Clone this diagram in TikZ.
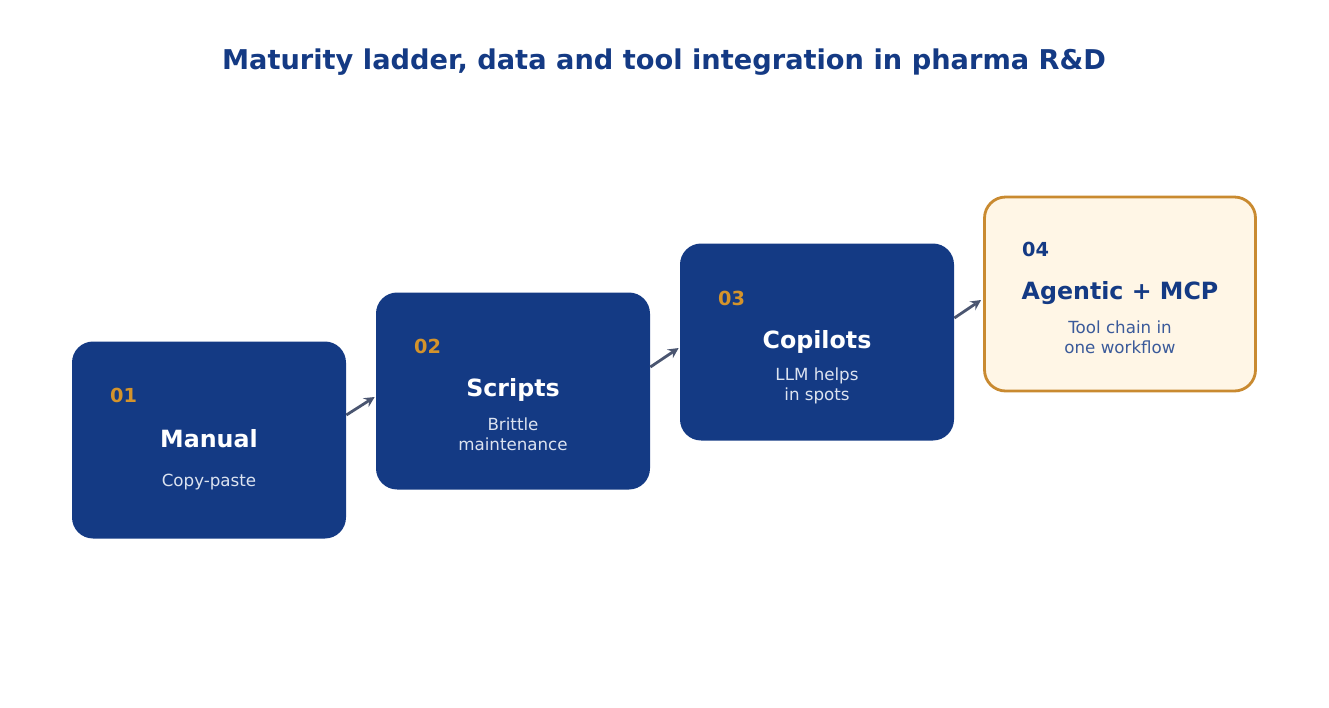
\documentclass[tikz,border=0pt]{standalone}
\usepackage{fontspec}
\setmainfont{DejaVu Sans}
\usetikzlibrary{calc}
\definecolor{navy}{HTML}{143A84}
\definecolor{amber}{HTML}{D4932B}
\definecolor{pale}{HTML}{DCE3F0}
\definecolor{cream}{HTML}{FFF6E6}
\definecolor{rim}{HTML}{C98A30}
\definecolor{slate}{HTML}{4A5570}
\definecolor{softblue}{HTML}{3A5A9A}
\begin{document}
\begin{tikzpicture}[x=0.02cm,y=-0.02cm,
                        stage/.style={shape=rectangle,fill=navy,rounded corners=12pt,minimum width=274*0.02cm,minimum height=197*0.02cm},
                        goal/.style={shape=rectangle,fill=cream,draw=rim,line width=1.6pt,rounded corners=12pt,minimum width=271*0.02cm,minimum height=194*0.02cm},
                        num/.style={font=\bfseries\fontsize{11}{13}\selectfont,anchor=west},
                        head/.style={font=\bfseries\fontsize{13.5}{16}\selectfont},
                        sub/.style={font=\fontsize{9.5}{11.5}\selectfont,align=center},
                        link/.style={draw=slate,line width=1.6pt,-stealth}
                        ]
                        \useasboundingbox (0,0) rectangle (1329,707);
                        \node [font=\bfseries\fontsize{15.5}{18}\selectfont,text=navy] (title) at (664,62) {Maturity ladder, data and tool integration in pharma R\&D};
                        %Stufe 1
                        \node [stage] (s1) at (209,440) {};
                        \node [num,text=amber] (n1) at (104,395) {01};
                        \node [head,text=white] (h1) at (209,439) {Manual};
                        \node [sub,text=pale] (t1) at (209,482) {Copy-paste};
                        %Stufe 2
                        \node [stage] (s2) at (513,391) {};
                        \node [num,text=amber] (n2) at (408,346) {02};
                        \node [head,text=white] (h2) at (513,390) {Scripts};
                        \node [sub,text=pale] (t2) at (513,434) {Brittle\\maintenance};
                        %Stufe 3
                        \node [stage] (s3) at (817,342) {};
                        \node [num,text=amber] (n3) at (712,298) {03};
                        \node [head,text=white] (h3) at (817,342) {Copilots};
                        \node [sub,text=pale] (t3) at (817,386) {LLM helps\\in spots};
                        %Stufe 4
                        \node [goal] (s4) at (1120,294) {};
                        \node [num,text=navy] (n4) at (1016,249) {04};
                        \node [head,text=navy] (h4) at (1120,293) {Agentic + MCP};
                        \node [sub,text=softblue] (t4) at (1120,337) {Tool chain in\\one workflow};
                        %Pfeile
                        \draw [link] ($(s1.east)+(0,-25)$) -- ($(s2.west)+(-1,6)$);
                        \draw [link] ($(s2.east)+(0,-24)$) -- ($(s3.west)+(-1,6)$);
                        \draw [link] ($(s3.east)+(0,-24)$) -- ($(s4.west)+(-2,6)$);
                \end{tikzpicture}
\end{document}
